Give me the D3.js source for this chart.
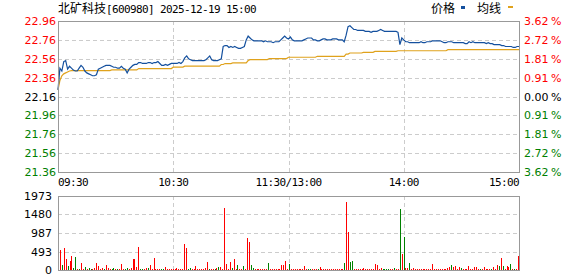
<!DOCTYPE html>
<html>
<head>
<meta charset="utf-8">
<script src="https://cdn.jsdelivr.net/npm/d3@7"></script>
<style>
	body { margin: 0; background: #fff; }
	svg { display: block; }
	.cjk { font-family: "Noto Sans CJK SC", sans-serif; font-size: 12px; }
	.mono { font-family: "DejaVu Sans Mono", monospace; font-size: 11px; letter-spacing: -0.62px; }
	.tick-label { font-family: "DejaVu Sans", sans-serif; font-size: 11px; }
	.grid { stroke: #cccccc; stroke-dasharray: 4,3; shape-rendering: crispEdges; }
	.frame { fill: none; stroke: #999; shape-rendering: crispEdges; }
</style>
</head>
<body>
<svg id="chart"></svg>
<script>
const stockName = '北矿科技';
const stockInfo = '[600980] 2025-12-19 15:00';

// last price, one value per minute (09:30 .. 11:30 / 13:00 .. 15:00)
const prices = [
	22.23, 22.46, 22.43, 22.53, 22.54, 22.45, 22.48, 22.46, 22.44, 22.43,
	22.43, 22.46, 22.49, 22.47, 22.43, 22.41, 22.40, 22.39, 22.38, 22.38,
	22.39, 22.45, 22.46, 22.47, 22.48, 22.49, 22.49, 22.49, 22.48, 22.47,
	22.47, 22.46, 22.46, 22.48, 22.46, 22.45, 22.41, 22.45, 22.47, 22.49,
	22.50, 22.50, 22.52, 22.52, 22.51, 22.51, 22.51, 22.52, 22.52, 22.51,
	22.52, 22.52, 22.53, 22.51, 22.49, 22.49, 22.50, 22.49, 22.50, 22.51,
	22.51, 22.51, 22.51, 22.52, 22.51, 22.53, 22.57, 22.59, 22.56, 22.55,
	22.54, 22.54, 22.54, 22.54, 22.54, 22.54, 22.54, 22.55, 22.57, 22.59,
	22.55, 22.54, 22.54, 22.54, 22.55, 22.56, 22.69, 22.70, 22.70, 22.68,
	22.69, 22.68, 22.69, 22.68, 22.67, 22.67, 22.68, 22.69, 22.76, 22.80,
	22.78, 22.76, 22.75, 22.75, 22.75, 22.75, 22.75, 22.74, 22.75, 22.74,
	22.74, 22.74, 22.73, 22.74, 22.74, 22.74, 22.76, 22.78, 22.80, 22.78,
	22.77, 22.79, 22.76, 22.75, 22.75, 22.75, 22.75, 22.75, 22.76, 22.77,
	22.78, 22.78, 22.78, 22.76, 22.76, 22.75, 22.75, 22.76, 22.77, 22.77,
	22.76, 22.76, 22.76, 22.77, 22.77, 22.77, 22.76, 22.76, 22.76, 22.74,
	22.81, 22.90, 22.91, 22.89, 22.87, 22.87, 22.86, 22.86, 22.86, 22.86,
	22.85, 22.85, 22.85, 22.84, 22.85, 22.85, 22.85, 22.86, 22.87, 22.86,
	22.85, 22.85, 22.85, 22.85, 22.85, 22.85, 22.85, 22.84, 22.71, 22.78,
	22.76, 22.74, 22.74, 22.73, 22.73, 22.73, 22.73, 22.73, 22.73, 22.74,
	22.73, 22.73, 22.74, 22.74, 22.74, 22.75, 22.75, 22.75, 22.75, 22.75,
	22.74, 22.73, 22.73, 22.74, 22.74, 22.74, 22.73, 22.73, 22.73, 22.73,
	22.73, 22.73, 22.72, 22.72, 22.74, 22.73, 22.74, 22.73, 22.73, 22.73,
	22.73, 22.73, 22.73, 22.72, 22.73, 22.72, 22.72, 22.71, 22.71, 22.71,
	22.71, 22.70, 22.70, 22.69, 22.69, 22.69, 22.69, 22.68, 22.68, 22.69,
	22.69
];

// average price line
const avgPrices = [
	22.23, 22.33, 22.38, 22.40, 22.41, 22.42, 22.43, 22.435, 22.435, 22.435,
	22.435, 22.435, 22.435, 22.435, 22.435, 22.435, 22.435, 22.435, 22.435, 22.435,
	22.435, 22.435, 22.435, 22.435, 22.435, 22.435, 22.435, 22.435, 22.442, 22.442,
	22.442, 22.442, 22.442, 22.442, 22.442, 22.442, 22.442, 22.442, 22.442, 22.442,
	22.442, 22.442, 22.456, 22.456, 22.456, 22.456, 22.456, 22.456, 22.456, 22.456,
	22.456, 22.456, 22.456, 22.456, 22.456, 22.456, 22.456, 22.456, 22.456, 22.456,
	22.471, 22.471, 22.471, 22.471, 22.471, 22.471, 22.482, 22.482, 22.482, 22.482,
	22.482, 22.482, 22.482, 22.482, 22.482, 22.482, 22.482, 22.482, 22.482, 22.482,
	22.482, 22.482, 22.482, 22.482, 22.482, 22.499, 22.499, 22.509, 22.509, 22.509,
	22.509, 22.516, 22.516, 22.516, 22.516, 22.516, 22.516, 22.516, 22.516, 22.541,
	22.551, 22.551, 22.551, 22.551, 22.551, 22.551, 22.551, 22.551, 22.551, 22.551,
	22.562, 22.562, 22.562, 22.562, 22.562, 22.562, 22.562, 22.562, 22.562, 22.562,
	22.576, 22.576, 22.576, 22.576, 22.576, 22.576, 22.576, 22.576, 22.576, 22.576,
	22.576, 22.576, 22.576, 22.576, 22.576, 22.586, 22.586, 22.586, 22.586, 22.586,
	22.586, 22.586, 22.586, 22.586, 22.586, 22.586, 22.586, 22.586, 22.586, 22.586,
	22.610, 22.610, 22.621, 22.621, 22.621, 22.621, 22.621, 22.621, 22.621, 22.628,
	22.628, 22.628, 22.628, 22.628, 22.628, 22.638, 22.638, 22.638, 22.638, 22.638,
	22.638, 22.638, 22.638, 22.638, 22.638, 22.638, 22.638, 22.645, 22.645, 22.645,
	22.645, 22.645, 22.645, 22.645, 22.645, 22.645, 22.645, 22.645, 22.645, 22.645,
	22.645, 22.645, 22.645, 22.645, 22.645, 22.645, 22.645, 22.645, 22.645, 22.645,
	22.645, 22.645, 22.645, 22.656, 22.656, 22.656, 22.656, 22.656, 22.656, 22.656,
	22.656, 22.656, 22.656, 22.656, 22.656, 22.656, 22.656, 22.656, 22.656, 22.656,
	22.656, 22.656, 22.656, 22.656, 22.656, 22.656, 22.656, 22.656, 22.656, 22.656,
	22.656, 22.656, 22.656, 22.656, 22.656, 22.656, 22.656, 22.656, 22.656, 22.656,
	22.656
];

// volume per minute
const volumes = [
	533, 133, 587, 302, 107, 240, 373, 62, 347, 36,
	36, 178, 30, 80, 30, 50, 30, 30, 55, 187,
	107, 30, 55, 30, 133, 55, 30, 30, 55, 30,
	30, 30, 151, 30, 30, 55, 30, 55, 293, 293,
	70, 613, 30, 30, 30, 55, 55, 133, 30, 320,
	30, 30, 30, 30, 30, 90, 30, 30, 30, 30,
	30, 55, 30, 30, 30, 702, 596, 30, 55, 30,
	30, 107, 30, 30, 30, 30, 55, 213, 30, 30,
	30, 30, 55, 90, 90, 30, 1654, 151, 30, 213,
	62, 293, 30, 133, 30, 30, 107, 30, 853, 747,
	133, 53, 30, 30, 30, 30, 30, 30, 30, 187,
	30, 30, 30, 30, 30, 30, 133, 133, 240, 30,
	160, 30, 30, 30, 30, 30, 30, 30, 107, 30,
	30, 30, 30, 30, 30, 30, 80, 30, 30, 30,
	30, 30, 30, 30, 30, 30, 30, 30, 30, 187,
	1813, 1013, 213, 240, 30, 30, 30, 30, 30, 55,
	30, 30, 30, 30, 30, 160, 133, 30, 62, 30,
	30, 30, 30, 30, 30, 62, 30, 30, 1636, 427,
	880, 62, 62, 196, 30, 55, 30, 30, 30, 30,
	30, 30, 30, 30, 30, 160, 30, 30, 30, 30,
	30, 30, 30, 55, 80, 133, 80, 107, 30, 80,
	55, 30, 30, 30, 107, 30, 30, 80, 80, 30,
	30, 30, 80, 30, 30, 30, 30, 80, 30, 133,
	107, 320, 107, 30, 107, 80, 160, 30, 30, 30,
	373
];

// u = up minute (red bar), d = down minute (green bar), rows match volumes
const volumeDirs = [
	'uduuduuddu', 'duududduuu', 'uuuduuuddu', 'duuudduuuu', 'uudduuduuu',
	'uuudduuuuu', 'uuuuuuuddu', 'uuuuuuuudu', 'ududuuuuuu', 'duuduuduuu',
	'dduuuuuuud', 'uuuuuuuuuu', 'duuuuuuuuu', 'dduuuduuuu', 'uuuuuuuuud',
	'uudduuuuuu', 'uuuuuuuuud', 'ddduuduudu', 'duuduuuuuu', 'uuuuuuuuuu',
	'uuuuuduuuu', 'duuuuuuuuu', 'duuuuuduuu', 'duduuududu', 'u'
].join('').split('');

const priceTicks = [22.96, 22.76, 22.56, 22.36, 22.16, 21.96, 21.76, 21.56, 21.36];
const pctTicks = ['3.62', '2.72', '1.81', '0.91', '0.00', '0.91', '1.81', '2.72', '3.62'];
const volumeTicks = [0, 493, 987, 1480, 1973];
const timeTicks = [0, 60, 120, 180, 240];
const timeLabels = ['09:30', '10:30', '11:30/13:00', '14:00', '15:00'];
const legendNames = ['价格', '均线'];

class IntradayChart {

	constructor(_config) {
		this.config = {
			parentElement: _config.parentElement,
			containerWidth: _config.containerWidth || 578,
			containerHeight: _config.containerHeight || 276,
			left: 58,
			right: 519,
			priceTop: 21,
			priceBottom: 172,
			volTop: 196,
			volBottom: 270
		};
		this.initVis();
	}

	initVis() {
		let vis = this;
		const c = vis.config;

		vis.svg = d3.select(c.parentElement)
			.attr('width', c.containerWidth)
			.attr('height', c.containerHeight);

		// scales
		vis.xScale = d3.scaleLinear().domain([0, 240]).range([c.left, c.right]);
		vis.xBar = d3.scaleLinear().domain([0, 240]).range([c.left + 2, c.right - 1]);
		vis.yPrice = d3.scaleLinear().domain([21.36, 22.96]).range([c.priceBottom, c.priceTop]);
		vis.yVol = d3.scaleLinear().domain([0, 1973]).range([c.volBottom, c.volTop]);

		vis.renderVis();
	}

	renderVis() {
		let vis = this;
		const c = vis.config;
		const labelColor = (i, n) => i < (n - 1) / 2 ? '#ff0000' : (i > (n - 1) / 2 ? '#008000' : '#000');

		// grid lines
		const grid = vis.svg.append('g');
		grid.selectAll('.hp')
			.data(priceTicks.slice(1, -1))
			.join('line')
			.attr('class', 'grid')
			.attr('x1', c.left).attr('x2', c.right)
			.attr('y1', d => Math.round(vis.yPrice(d)) + 0.5)
			.attr('y2', d => Math.round(vis.yPrice(d)) + 0.5);

		grid.selectAll('.hv')
			.data(volumeTicks.slice(1, -1))
			.join('line')
			.attr('class', 'grid')
			.attr('x1', c.left).attr('x2', c.right)
			.attr('y1', d => Math.round(vis.yVol(d)) + 0.5)
			.attr('y2', d => Math.round(vis.yVol(d)) + 0.5);

		[[c.priceTop, c.priceBottom], [c.volTop, c.volBottom]].forEach(([t, b]) => {
			grid.append('g').selectAll('line')
				.data(timeTicks.slice(1, -1))
				.join('line')
				.attr('class', 'grid')
				.attr('x1', d => Math.round(vis.xScale(d)) + 0.5)
				.attr('x2', d => Math.round(vis.xScale(d)) + 0.5)
				.attr('y1', t).attr('y2', b);
		});

		// volume bars
		vis.svg.append('g').selectAll('rect')
			.data(volumes)
			.join('rect')
			.attr('x', (d, i) => Math.round(vis.xBar(i)))
			.attr('y', d => vis.yVol(d))
			.attr('width', 1)
			.attr('height', d => c.volBottom - vis.yVol(d))
			.attr('fill', (d, i) => volumeDirs[i] === 'd' ? '#008000' : '#ff0000')
			.attr('shape-rendering', 'crispEdges');

		// average and price lines
		const line = d3.line()
			.x((d, i) => vis.xScale(i))
			.y(d => vis.yPrice(d));

		vis.svg.append('path')
			.datum(avgPrices)
			.attr('fill', 'none')
			.attr('stroke', '#e0a21c')
			.attr('stroke-width', 1.2)
			.attr('d', line);

		vis.svg.append('path')
			.datum(prices)
			.attr('fill', 'none')
			.attr('stroke', '#14509e')
			.attr('stroke-width', 1.2)
			.attr('d', line);

		// frames
		vis.svg.append('rect')
			.attr('class', 'frame')
			.attr('x', c.left + 0.5).attr('y', c.priceTop + 0.5)
			.attr('width', c.right - c.left).attr('height', c.priceBottom - c.priceTop);
		vis.svg.append('rect')
			.attr('class', 'frame')
			.attr('x', c.left + 0.5).attr('y', c.volTop + 0.5)
			.attr('width', c.right - c.left).attr('height', c.volBottom - c.volTop);

		// left price labels
		vis.svg.append('g').selectAll('text')
			.data(priceTicks)
			.join('text')
			.attr('class', 'tick-label')
			.attr('text-anchor', 'end')
			.attr('x', c.left - 2)
			.attr('y', d => vis.yPrice(d) + 4)
			.attr('fill', (d, i) => labelColor(i, priceTicks.length))
			.text(d => d.toFixed(2));

		// right percent labels
		const pct = vis.svg.append('g').selectAll('text')
			.data(pctTicks)
			.join('text')
			.attr('class', 'tick-label')
			.attr('x', c.right + 5)
			.attr('y', (d, i) => vis.yPrice(priceTicks[i]) + 4)
			.attr('fill', (d, i) => labelColor(i, pctTicks.length));
		pct.append('tspan').text(d => d);
		pct.append('tspan').attr('dx', 2.5).text('%');

		// volume labels
		vis.svg.append('g').selectAll('text')
			.data(volumeTicks)
			.join('text')
			.attr('class', 'tick-label')
			.attr('text-anchor', 'end')
			.attr('x', c.left - 6)
			.attr('y', d => vis.yVol(d) + 4)
			.attr('fill', '#000')
			.text(d => d);

		// time labels
		vis.svg.append('g').selectAll('text')
			.data(timeTicks)
			.join('text')
			.attr('class', 'mono')
			.attr('text-anchor', (d, i) => i === 0 ? 'start' : (i === timeTicks.length - 1 ? 'end' : 'middle'))
			.attr('x', d => vis.xScale(d))
			.attr('y', 186)
			.attr('fill', '#000')
			.text((d, i) => timeLabels[i]);

		// title
		const title = vis.svg.append('text')
			.attr('x', c.left)
			.attr('y', 13)
			.attr('fill', '#000');
		title.append('tspan').attr('class', 'cjk').text(stockName);
		title.append('tspan').attr('class', 'mono').text(stockInfo);

		// legend
		const legend = vis.svg.append('g');
		legend.append('text').attr('class', 'cjk').attr('x', 431).attr('y', 13).text(legendNames[0]);
		legend.append('rect').attr('x', 461).attr('y', 6).attr('width', 4).attr('height', 3).attr('fill', '#14509e');
		legend.append('text').attr('class', 'cjk').attr('x', 477).attr('y', 13).text(legendNames[1]);
		legend.append('rect').attr('x', 508).attr('y', 6).attr('width', 5).attr('height', 2).attr('fill', '#e0a21c');
	}
}

new IntradayChart({ parentElement: '#chart' });
</script>
</body>
</html>
